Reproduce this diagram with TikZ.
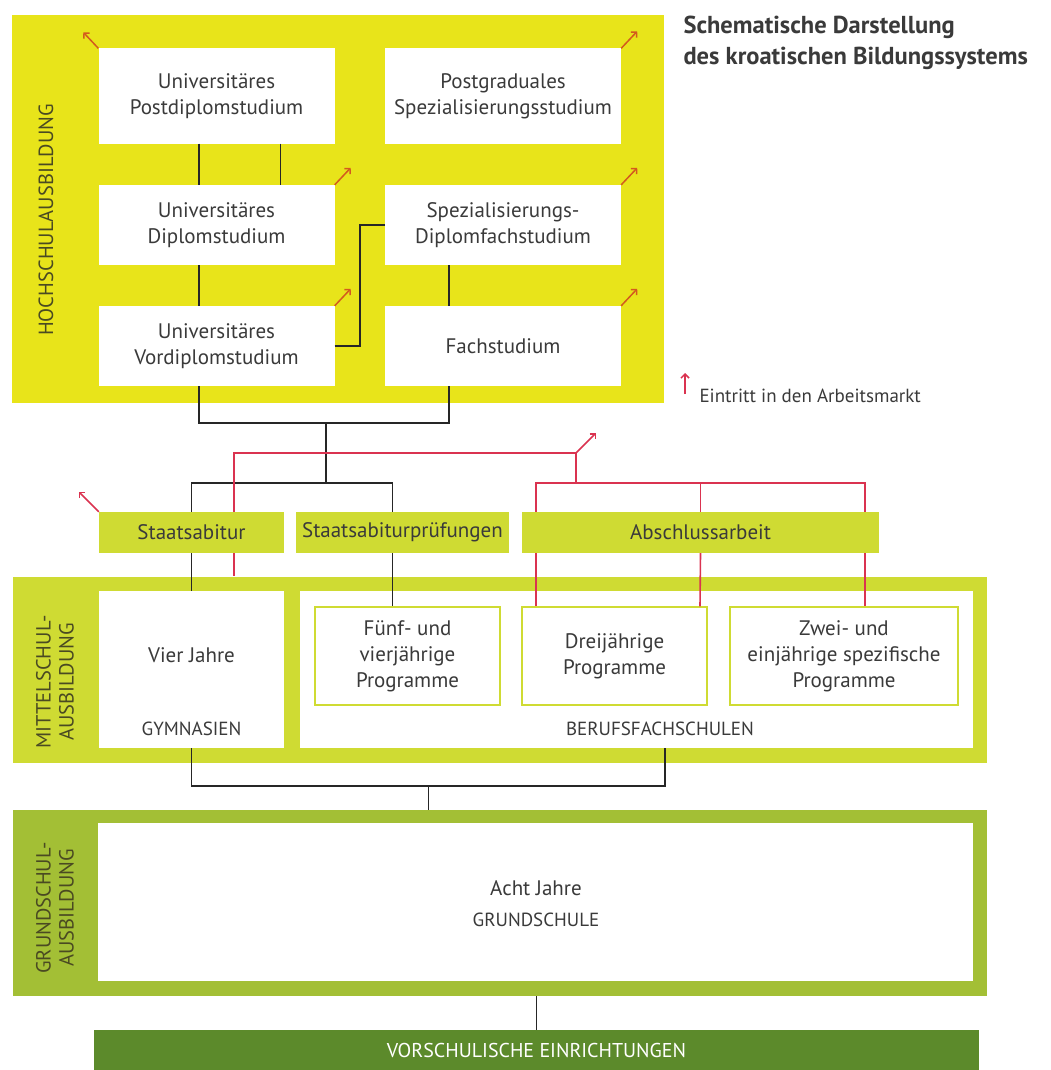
\documentclass[tikz,border=0pt]{standalone}
\usepackage{fontspec}
\setmainfont{PT Sans}
\usetikzlibrary{arrows.meta}

\definecolor{hochgelb}{HTML}{E8E41A}
\definecolor{mittelgruen}{HTML}{CFDB33}
\definecolor{grundgruen}{HTML}{A3BF35}
\definecolor{vorgruen}{HTML}{5C8A2B}
\definecolor{rotlinie}{HTML}{DA3350}
\definecolor{orangepfeil}{HTML}{D35A1E}
\definecolor{textgrau}{HTML}{3A3A3A}
\definecolor{labelgrau}{HTML}{4A4A22}

\tikzset{
  rahmen/.style={fill=#1, inner sep=0},
  stufe/.style={fill=white, minimum width=236pt, minimum height=80pt, align=center, inner sep=0},
  pruefung/.style={fill=mittelgruen, minimum height=41pt, inner sep=0},
  programm/.style={fill=white, draw=mittelgruen, line width=1.5pt, minimum width=185pt, minimum height=98pt, align=center, inner sep=0},
  schule/.style={fill=white, inner sep=0},
  klein/.style={font=\fontsize{19}{22}\selectfont},
  stufenlabel/.style={rotate=90, align=center, text=labelgrau, font=\fontsize{20.5}{23}\selectfont},
  linie/.style={line width=1.8pt, black!85},
  rotelinie/.style={line width=1.6pt, rotlinie},
  ausgang/.style={line width=1.5pt, orangepfeil, -{Straight Barb[length=4pt,width=8pt]}},
  ausgangrot/.style={line width=1.5pt, rotlinie, -{Straight Barb[length=4pt,width=8pt]}}
}

\begin{document}
\begin{tikzpicture}[x=1pt, y=-1pt, text=textgrau, font=\fontsize{21}{26}\selectfont]
    \useasboundingbox (0,0) rectangle (1050,1070);

    % Rahmen der Stufen
    \node[rahmen=hochgelb, minimum width=652pt, minimum height=388pt] (hoch) at (338,209) {};
    \node[rahmen=mittelgruen, minimum width=974pt, minimum height=186pt] (mittel) at (500,670) {};
    \node[rahmen=grundgruen, minimum width=974pt, minimum height=186pt] (grund) at (500,903) {};
    \node[rahmen=vorgruen, minimum width=885pt, minimum height=40pt, text=white, font=\fontsize{20}{22}\selectfont] (vor) at (536.5,1050) {VORSCHULISCHE EINRICHTUNGEN};

    \node[stufenlabel] at (46,220) {HOCHSCHULAUSBILDUNG};
    \node[stufenlabel] at (55,682) {MITTELSCHUL-\\AUSBILDUNG};
    \node[stufenlabel] at (55,908) {GRUNDSCHUL-\\AUSBILDUNG};

    % Hochschule
    \node[stufe, minimum height=95pt] (upd) at (216.5,96) {Universitäres\\Postdiplomstudium};
    \node[stufe, minimum height=95pt] (pgs) at (503,96) {Postgraduales\\Spezialisierungsstudium};
    \node[stufe] (ud) at (216.5,225) {Universitäres\\Diplomstudium};
    \node[stufe] (sdf) at (503,225) {Spezialisierungs-\\Diplomfachstudium};
    \node[stufe] (uvd) at (216.5,346) {Universitäres\\Vordiplomstudium};
    \node[stufe] (fs) at (503,346) {Fachstudium};

    % Pruefungen
    \node[pruefung, minimum width=185pt] (abi) at (191.5,532.5) {Staatsabitur};
    \node[pruefung, minimum width=213pt] (abip) at (402.5,532.5) {Staatsabiturprüfungen};
    \node[pruefung, minimum width=357pt] (abs) at (700.5,532.5) {Abschlussarbeit};

    % Mittelschule
    \node[schule, minimum width=185pt, minimum height=157pt] (gym) at (191.5,669.5) {};
    \node[schule, minimum width=673pt, minimum height=157pt] (berufs) at (636.5,669.5) {};
    \node at (191.5,655) {Vier Jahre};
    \node[klein] at (191.5,729) {GYMNASIEN};
    \node[klein] at (660,729) {BERUFSFACHSCHULEN};
    \node[programm] (fuenf) at (407.5,656) {Fünf- und\\vierjährige\\Programme};
    \node[programm] (dreij) at (614.5,656) {Dreijährige\\Programme};
    \node[programm, minimum width=228pt] (zwei) at (844,656) {Zwei- und\\einjährige spezifische\\Programme};

    % Grundschule
    \node[schule, minimum width=875pt, minimum height=158pt] (gs) at (535.5,902) {};
    \node at (536,888) {Acht Jahre};
    \node[klein] at (536,920) {GRUNDSCHULE};

    % Titel und Legende
    \node[anchor=north west, align=left, font=\bfseries\fontsize{24.5}{31}\selectfont] (titel) at (680,12) {Schematische Darstellung\\des kroatischen Bildungssystems};
    \node[anchor=west, font=\fontsize{19}{22}\selectfont] (legende) at (696,396) {Eintritt in den Arbeitsmarkt};

    \coordinate (j1) at (326,423);
    \coordinate (j2) at (326,483);
    \coordinate (j3) at (428.5,786);
    \coordinate (r1) at (576,453);
    \coordinate (r2) at (576,483);
    \coordinate (leg) at (685,394);

    % schwarze Verbindungen
    \draw[linie] ([xshift=-17.5pt]upd.south) -- ([xshift=-17.5pt]ud.north);
    \draw[linie] ([xshift=64pt]upd.south) -- ([xshift=64pt]ud.north);
    \draw[linie] ([xshift=-17.5pt]ud.south) -- ([xshift=-17.5pt]uvd.north);
    \draw[linie] (uvd.east) -- ++(25,0) |- (sdf.west);
    \draw[linie] ([xshift=-54pt]sdf.south) -- ([xshift=-54pt]fs.north);
    \draw[linie] ([xshift=-17.5pt]uvd.south) |- (j1) -| ([xshift=-54pt]fs.south);
    \draw[linie] (j1) -- (j2);
    \draw[linie] (abi.north) |- (j2) -| ([xshift=-10pt]abip.north);
    \draw[linie] (abi.south) -- (gym.north);
    \draw[linie] ([xshift=-10pt]abip.south) -- ([xshift=-15pt]fuenf.north);
    \draw[linie] (gym.south) |- (j3) -| ([xshift=28.5pt]berufs.south);
    \draw[linie] (j3) -- (j3 |- grund.north);
    \draw[linie] (grund.south -| vor.north) -- (vor.north);

    % rote Verbindungen
    \draw[rotelinie] ([xshift=42.5pt]abi.north) |- (r1) -- (r2);
    \draw[rotelinie] ([xshift=42.5pt]abi.south) -- ++(0,23);
    \draw[rotelinie] ([xshift=-164.5pt]abs.north) |- (r2) -| ([xshift=164.5pt]abs.north);
    \draw[rotelinie] (abs.north) -- (abs.north |- r2);
    \draw[rotelinie] ([xshift=-164.5pt]abs.south) -- ([xshift=-78.5pt]dreij.north);
    \draw[rotelinie] (abs.south) -- ([xshift=85.5pt]dreij.north);
    \draw[rotelinie] ([xshift=164.5pt]abs.south) -- ([xshift=21pt]zwei.north);

    % Austritt in den Arbeitsmarkt
    \draw[ausgang] (upd.north west) -- ++(-15,-16);
    \foreach \n in {pgs,ud,sdf,uvd,fs}
        \draw[ausgang] (\n.north east) -- ++(16,-17);
    \draw[ausgangrot] (abi.north west) -- ++(-20,-20);
    \draw[ausgangrot] (r1) -- ++(20,-20);
    \draw[ausgangrot] (leg) -- ++(0,-21);

\end{tikzpicture}
\end{document}
